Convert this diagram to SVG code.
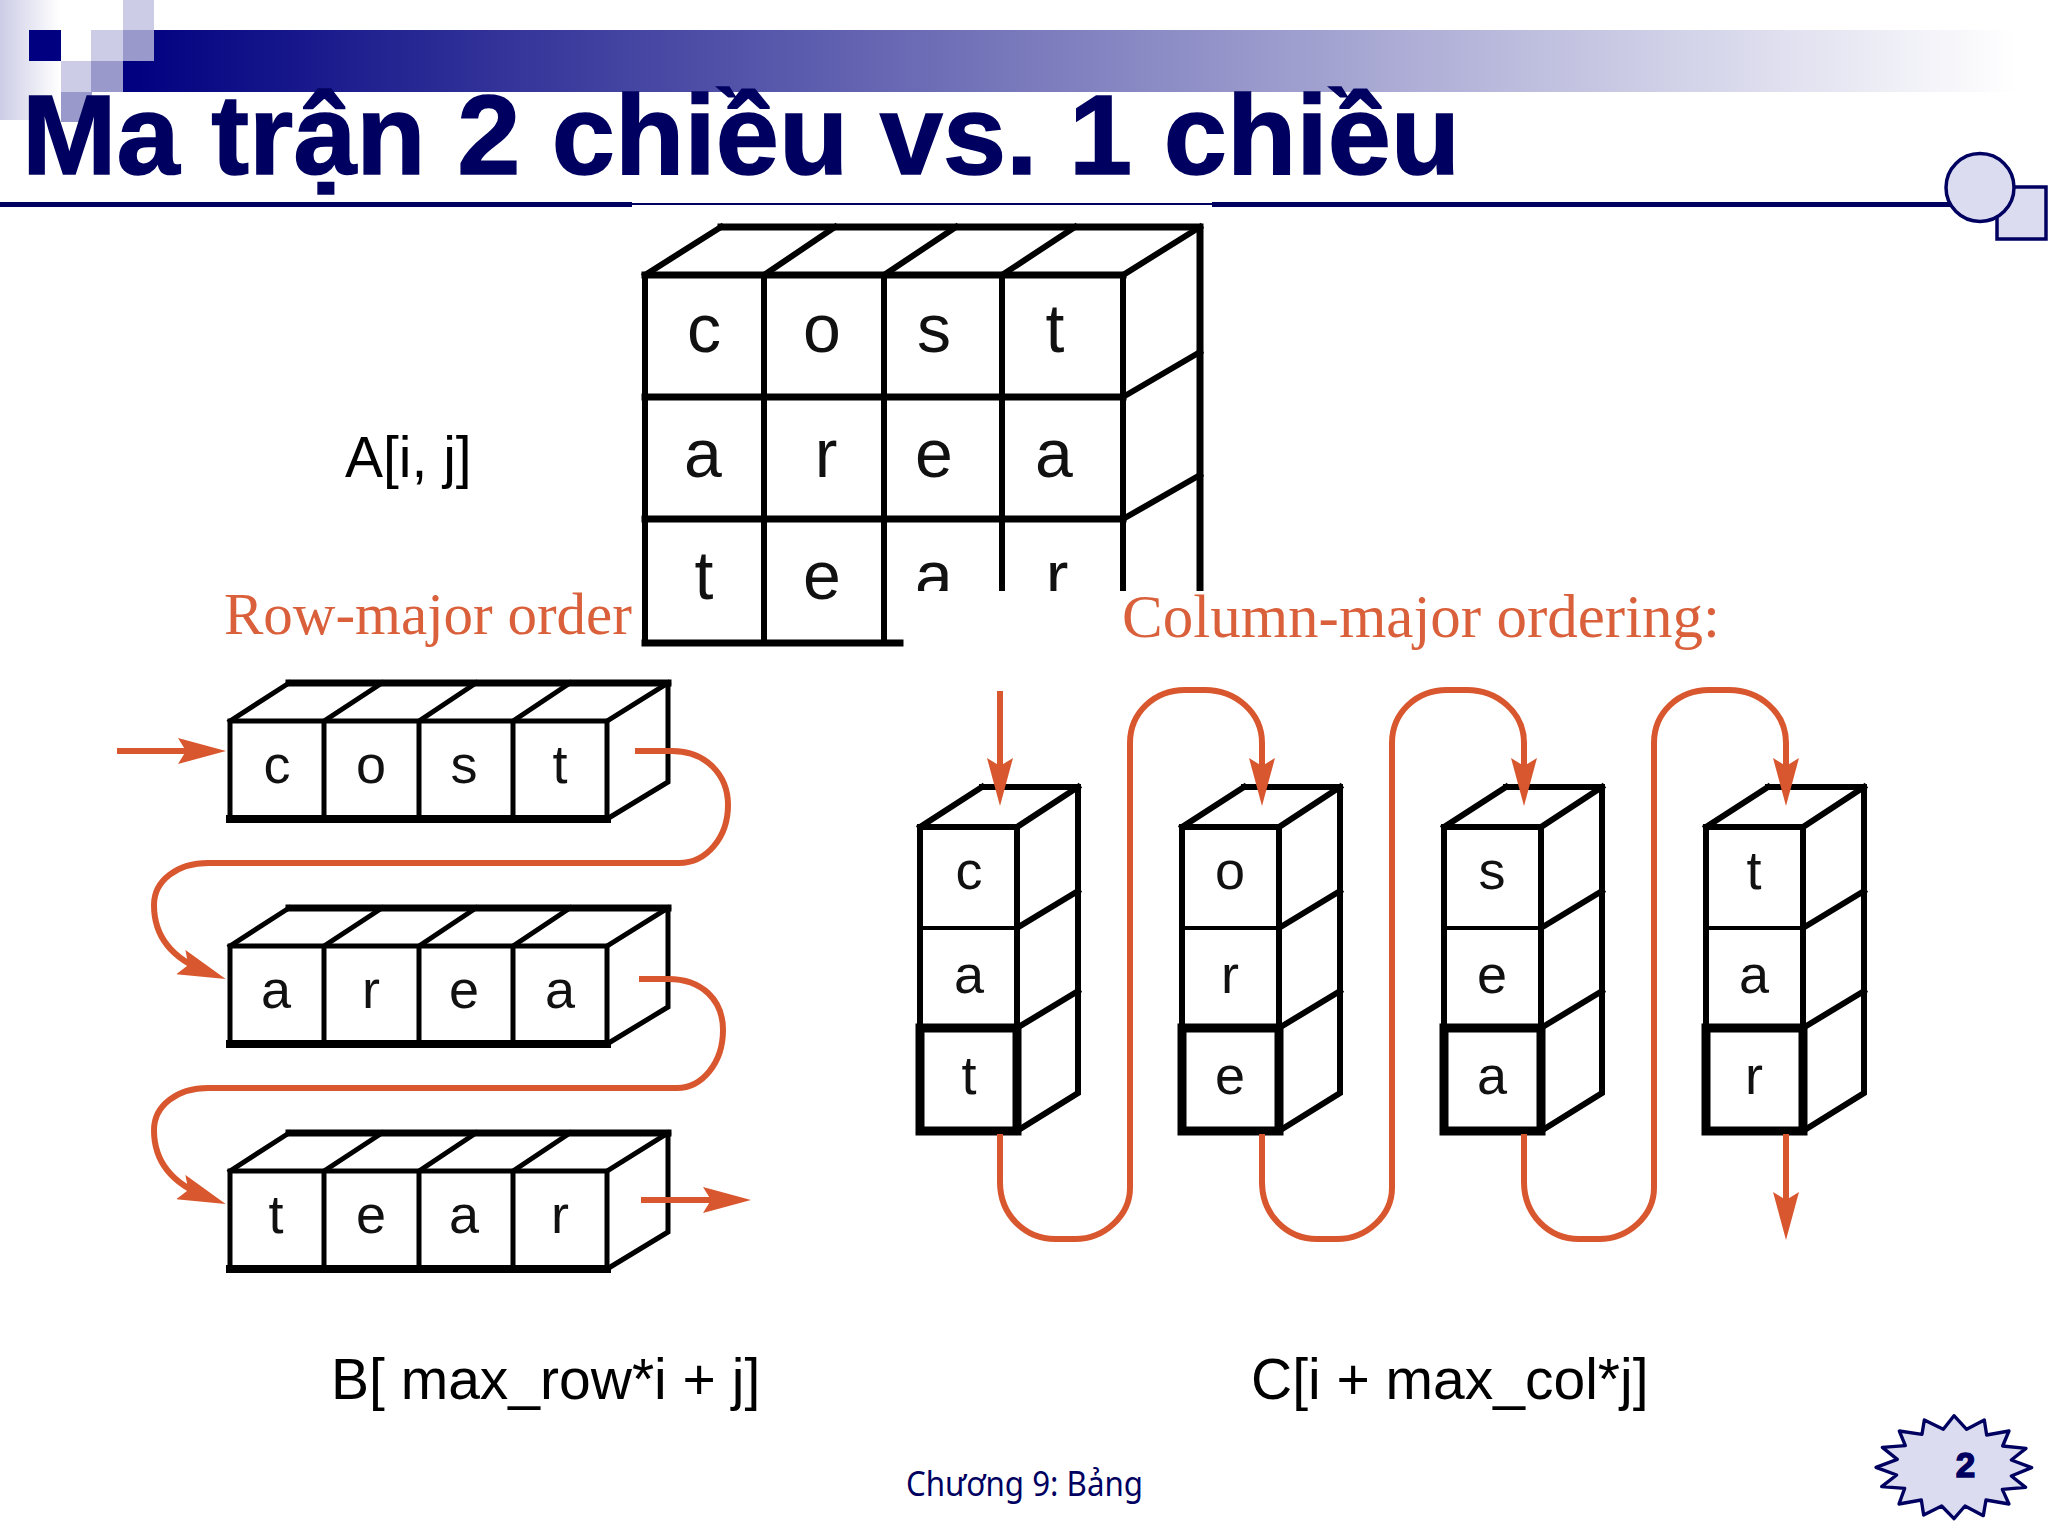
<svg xmlns="http://www.w3.org/2000/svg" xmlns:xlink="http://www.w3.org/1999/xlink" width="2048" height="1536" viewBox="0 0 2048 1536">
<style>
.navy{fill:#000060}
.lt{fill:#ccccE6}
.md{fill:#9999cc}
.ln{fill:none;stroke:#000;stroke-linecap:square}
.cell{font-family:"Liberation Sans",Arial,sans-serif;fill:#111;text-anchor:middle}
.m{font-size:68px}
.s{font-size:54px}
.lab{font-family:"Liberation Sans",Arial,sans-serif;font-size:57px;fill:#000}
.or{font-family:"Liberation Serif","Times New Roman",serif;font-size:59px;fill:#d9603b}
.con{fill:none;stroke:#d9572e;stroke-width:6}
.decor{fill:#dcdcf0;stroke:#000060;stroke-width:3.5}
</style>
<defs>
<linearGradient id="barG" x1="0" x2="1" y1="0" y2="0"><stop offset="0" stop-color="#000080"/><stop offset="1" stop-color="#ffffff"/></linearGradient>
<linearGradient id="leftG" x1="0" x2="1" y1="0" y2="0"><stop offset="0" stop-color="#ccccE6"/><stop offset="1" stop-color="#ffffff"/></linearGradient>
<marker id="head" markerUnits="userSpaceOnUse" viewBox="0 0 48 26" markerWidth="48" markerHeight="26" refX="28" refY="13" orient="auto"><path d="M0 0L48 13L0 26L8 13Z" fill="#d9572e"/></marker>
<g id="rowBox">
<path class="ln" stroke-width="5" d="M230 721H607M230 721V819M324 721V819M419 721V819M513 721V819M607 721V819"/>
<path class="ln" stroke-width="8" d="M230 819H607"/>
<path class="ln" stroke-width="7" d="M289 683H668"/>
<path class="ln" stroke-width="5" d="M668 683V782L607 819M230 721L289 683M324 721L382 683M419 721L476 683M513 721L570 683M607 721L668 683"/>
</g>
<g id="colBox">
<path class="ln" stroke-width="6" d="M920 827H1017M920 827V1028M1017 827V1028M982 787H1078V1093L1017 1131M920 827L982 787M1017 827L1078 787M1017 928L1078 891M1017 1028L1078 991"/>
<path class="ln" stroke-width="4" d="M920 928H1017"/>
<rect x="920" y="1028" width="97" height="103" fill="none" stroke="#000" stroke-width="9"/>
</g>
<path id="loop" class="con" d="M1000 1134V1182C1000 1215 1025 1239 1055 1239H1075C1105 1239 1130 1215 1130 1188V743C1130 712 1155 690 1185 690H1205C1235 690 1262 712 1262 743V786" marker-end="url(#head)"/>
</defs>
<rect width="2048" height="1536" fill="#fff"/>
<g id="decoration">
<rect x="0" y="0" width="60" height="120" fill="url(#leftG)"/>
<rect x="123" y="30" width="1893" height="62" fill="url(#barG)"/>
<rect x="29" y="30" width="32" height="31" fill="#000080"/>
<rect class="lt" x="123" y="0" width="31" height="30"/>
<rect class="lt" x="91" y="30" width="32" height="31"/>
<rect class="md" x="123" y="30" width="31" height="31"/>
<rect class="lt" x="61" y="61" width="30" height="31"/>
<rect class="md" x="91" y="61" width="32" height="31"/>
<rect class="md" x="61" y="92" width="31" height="30"/>
<rect class="navy" x="0" y="202" width="632" height="5"/>
<rect class="navy" x="632" y="203" width="580" height="2"/>
<rect class="navy" x="1212" y="202" width="740" height="5"/>
<rect class="decor" x="1997" y="187" width="49" height="52"/>
<ellipse class="decor" cx="1980" cy="187.5" rx="34" ry="34"/>
</g>
<text id="title" x="22" y="174" font-family="'Liberation Sans',Arial,sans-serif" font-weight="700" font-size="113.5" fill="#000060" stroke="#000060" stroke-width="1.5">Ma trận 2 chiều vs. 1 chiều</text>
<g id="matrix">
<path class="ln" stroke-width="7" d="M645 275H1123M721 227H1200V590M645 397H1123M645 519H1123M645 643H900"/>
<path class="ln" stroke-width="6" d="M645 275V643M764 275V643M884 275V643M1002 275V590M1123 275V590M645 275L721 227M764 275L835 227M884 275L956 227M1002 275L1075 227M1123 275L1200 227M1123 397L1200 352M1123 519L1200 475"/>
<g class="cell m">
<text x="704" y="352">c</text><text x="822" y="352">o</text><text x="934" y="352">s</text><text x="1055" y="352">t</text>
<text x="703" y="477">a</text><text x="826" y="477">r</text><text x="934" y="477">e</text><text x="1054" y="477">a</text>
<text x="704" y="599">t</text><text x="822" y="599">e</text><text x="934" y="599">a</text><text x="1057" y="599">r</text>
</g>
<rect x="890" y="591" width="330" height="48" fill="#fff"/>
</g>
<text id="label-a" class="lab" x="345" y="477">A[i, j]</text>
<text id="label-row" class="or" x="224" y="634">Row-major order</text>
<text id="label-col" class="or" x="1122" y="637" style="font-size:61px">Column-major ordering:</text>
<g id="row-1"><use xlink:href="#rowBox" href="#rowBox"/><g class="cell s"><text x="277" y="783">c</text><text x="371" y="783">o</text><text x="464" y="783">s</text><text x="560" y="783">t</text></g></g>
<g id="row-2"><use xlink:href="#rowBox" href="#rowBox" y="225"/><g class="cell s"><text x="276" y="1008">a</text><text x="371" y="1008">r</text><text x="464" y="1008">e</text><text x="560" y="1008">a</text></g></g>
<g id="row-3"><use xlink:href="#rowBox" href="#rowBox" y="450"/><g class="cell s"><text x="276" y="1233">t</text><text x="371" y="1233">e</text><text x="464" y="1233">a</text><text x="560" y="1233">r</text></g></g>
<g id="col-1"><use xlink:href="#colBox" href="#colBox"/><g class="cell s"><text x="969" y="889">c</text><text x="969" y="993">a</text><text x="969" y="1094">t</text></g></g>
<g id="col-2"><use xlink:href="#colBox" href="#colBox" x="262"/><g class="cell s"><text x="1230" y="889">o</text><text x="1230" y="993">r</text><text x="1230" y="1094">e</text></g></g>
<g id="col-3"><use xlink:href="#colBox" href="#colBox" x="524"/><g class="cell s"><text x="1492" y="889">s</text><text x="1492" y="993">e</text><text x="1492" y="1094">a</text></g></g>
<g id="col-4"><use xlink:href="#colBox" href="#colBox" x="786"/><g class="cell s"><text x="1754" y="889">t</text><text x="1754" y="993">a</text><text x="1754" y="1094">r</text></g></g>
<g id="connectors">
<path class="con" d="M117 751H206" marker-end="url(#head)"/>
<path class="con" d="M635 751H672C706 751 728 775 728 805C728 838 706 863 679 863H208C178 863 154 880 154 905C154 935 170 958 207 972" marker-end="url(#head)"/>
<path class="con" d="M639 979H668C702 979 723 1000 723 1030C723 1063 702 1088 677 1088H208C178 1088 154 1105 154 1130C154 1160 170 1183 207 1197" marker-end="url(#head)"/>
<path class="con" d="M641 1200H731" marker-end="url(#head)"/>
<path class="con" d="M1000 691V786" marker-end="url(#head)"/>
<use xlink:href="#loop" href="#loop"/>
<use xlink:href="#loop" href="#loop" x="262"/>
<use xlink:href="#loop" href="#loop" x="524"/>
<path class="con" d="M1786 1134V1220" marker-end="url(#head)"/>
</g>
<text id="label-b" class="lab" x="331" y="1399">B[ max_row*i + j]</text>
<text id="label-c" class="lab" x="1251" y="1399">C[i + max_col*j]</text>
<text id="footer" x="906" y="1496" font-family="'Noto Sans',sans-serif" font-size="34" fill="#000060" textLength="237" lengthAdjust="spacingAndGlyphs">Chương 9: Bảng</text>
<g id="page-number">
<polygon transform="translate(1800 1380) scale(.3333)" points="462,107 500,148 553,120 560,165 627,153 608,198 678,205 634,240 695,263 634,288 677,322 607,328 627,372 558,360 550,407 495,378 462,416 425,378 371,405 364,360 297,372 314,325 245,320 290,285 228,262 292,238 247,202 316,197 298,153 366,163 373,120 430,148" fill="#dcdcf0" stroke="#000060" stroke-width="10" stroke-linejoin="round"/>
<text x="1965.5" y="1477" text-anchor="middle" font-family="'Liberation Sans',Arial,sans-serif" font-weight="700" font-size="35" fill="#000060" stroke="#000060" stroke-width="1.5">2</text>
</g>
</svg>
